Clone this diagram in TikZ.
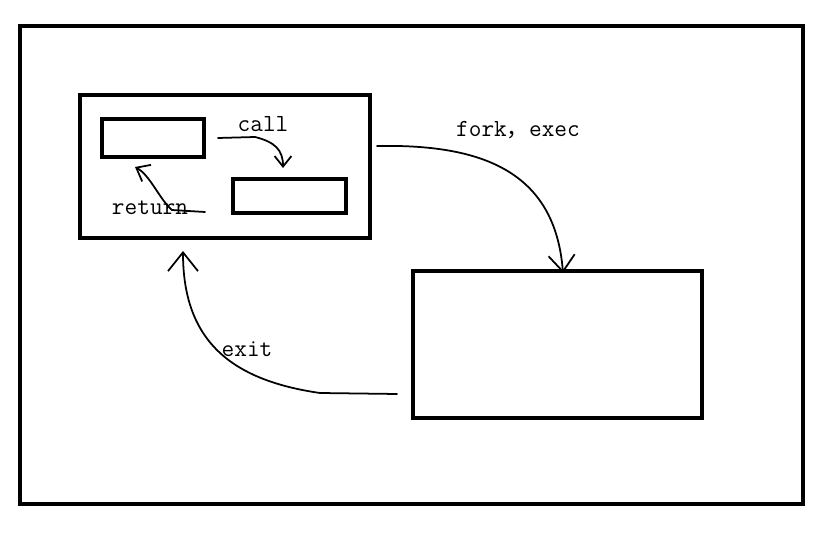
\documentclass[tikz,border=0pt]{standalone}
\usepackage{fontspec}
\newfontfamily\cjk{Noto Sans CJK SC}
\usetikzlibrary{arrows.meta}
\begin{document}
\begin{tikzpicture}[x=0.03cm,y=-0.03cm,
  box/.style={draw=black,line width=3.4pt,inner sep=0pt,fill=none},
  hand/.style={draw=black,line width=1.5pt,line cap=round,line join=round},
  lbl/.style={font=\ttfamily\fontsize{21}{25}\selectfont,inner sep=0pt},
  barb/.style={-{Straight Barb[length=#1,width=1.6*#1,line width=1.5pt]}}]
\useasboundingbox (0,0) rectangle (830,543);
\fill[white] (0,0) rectangle (830,543);
% boxes
\node[box,minimum width=23.49cm,minimum height=14.34cm] (outer) at (411.5,265) {};
\node[box,minimum width=8.7cm,minimum height=4.29cm] (A) at (225,166.5) {};
\node[box,minimum width=3.06cm,minimum height=1.14cm] (s1) at (153,138) {};
\node[box,minimum width=3.39cm,minimum height=1.02cm] (s2) at (289.5,196) {};
\node[box,minimum width=8.67cm,minimum height=4.41cm] (B) at (557.5,344.5) {};
% labels
\node[lbl] (call) at (263,124) {call};
\node[lbl] (ret) at (150,208) {return};
\node[lbl] (fork) at (518,130) {fork{\cjk\fontsize{19}{21}\selectfont ，}exec};
\node[lbl] (exit) at (247,349) {exit};
% free ends
\coordinate (forkS) at (377,146);
\coordinate (forkE) at (563,273);
\coordinate (callS) at (218,138);
\coordinate (callE) at (283,168);
\coordinate (retS) at (205,212);
\coordinate (retE) at (135,167);
\coordinate (exitS) at (397,394);
\coordinate (exitE) at (183,251);
% connectors
\draw[hand,barb=14pt] (forkS) .. controls (480,144) and (555,170) .. (forkE);
\draw[hand,barb=9pt] (callS) -- (255,137) .. controls (275,142) and (283,150) .. (callE);
\draw[hand,barb=10pt] (retS) -- (172,210) .. controls (160,200) and (150,175) .. (retE);
\draw[hand,barb=16pt] (exitS) -- (320,393) .. controls (230,380) and (183,340) .. (exitE);
\end{tikzpicture}
\end{document}
